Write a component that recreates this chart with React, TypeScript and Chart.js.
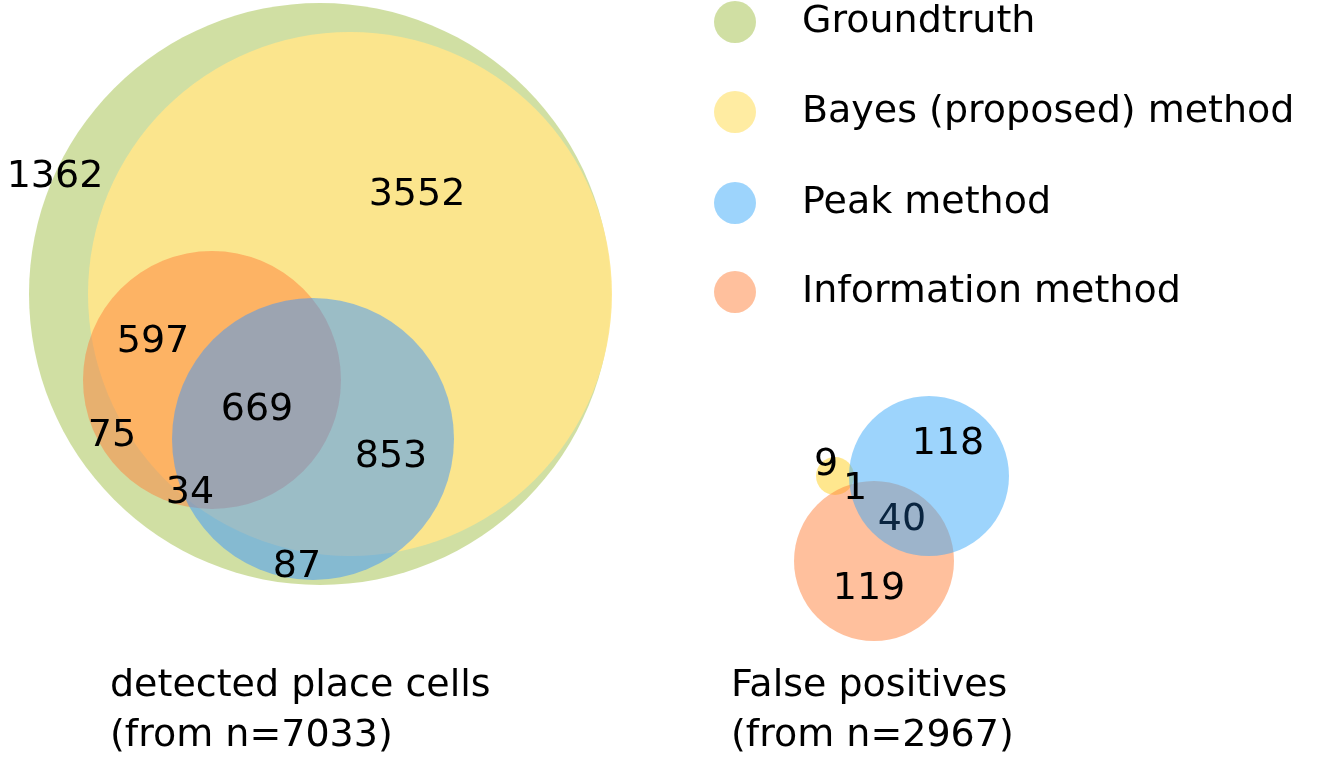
import { useRef, useEffect } from "react"
import { Chart, registerables } from "chart.js"

Chart.register(...registerables)

// circles: groundtruth, bayes, information, peak (left), then false positives (right)
const circleNames = ["Groundtruth", "Bayes", "Information", "Peak", "FP Bayes", "FP Information", "FP Peak"]
const circleX = [320, 350, 212, 313, 835, 874, 929]
const circleY = [294, 294, 380, 439, 476, 561, 476]
const circleR = [291, 262, 129, 141, 19, 80, 80]
const circleColors = [
  "rgba(162,192,72,0.5)",
  "rgba(255,230,140,0.92)",
  "rgba(255,130,60,0.5)",
  "rgba(60,150,255,0.5)",
  "rgba(255,228,130,0.9)",
  "rgba(255,130,60,0.5)",
  "rgba(60,170,250,0.5)",
]

const regionCounts = ["1362", "3552", "597", "669", "853", "75", "34", "87", "9", "1", "118", "40", "119"]
const regionX = [55, 417, 153, 257, 391, 112, 190, 297, 826, 855, 948, 902, 869]
const regionY = [177, 195, 342, 410, 457, 436, 493, 567, 465, 489, 444, 520, 589]

const legendLabels = ["Groundtruth", "Bayes (proposed) method", "Peak method", "Information method"]
const legendColors = ["rgba(162,192,72,0.5)", "rgba(255,218,70,0.5)", "rgba(60,170,250,0.5)", "rgba(255,130,60,0.5)"]
const legendY = [22, 112, 203, 292]

const captions = [
  ["detected place cells", "(from n=7033)"],
  ["False positives", "(from n=2967)"],
]
const captionX = [110, 731]

const textPlugin = {
  id: "vennText",
  afterDatasetsDraw(chart: any) {
    const { ctx, scales } = chart
    const x = scales.x, y = scales.y
    ctx.save()
    ctx.fillStyle = "#000"
    ctx.font = "38px 'DejaVu Sans'"
    ctx.textAlign = "center"
    ctx.textBaseline = "middle"
    regionCounts.forEach((t, i) => {
      ctx.fillStyle = i === 11 ? "#0a2540" : "#000"
      ctx.fillText(t, x.getPixelForValue(regionX[i]), y.getPixelForValue(regionY[i]))
    })
    ctx.fillStyle = "#000"
    ctx.textAlign = "left"
    legendLabels.forEach((t, i) => {
      ctx.fillText(t, x.getPixelForValue(802), y.getPixelForValue(legendY[i]))
    })
    captions.forEach((lines, i) => {
      lines.forEach((t, j) => {
        ctx.fillText(t, x.getPixelForValue(captionX[i]), y.getPixelForValue(686 + j * 50))
      })
    })
    ctx.restore()
  },
}

export default function App() {
  const chartRef = useRef<HTMLCanvasElement>(null)
  const chartInstance = useRef<Chart | null>(null)

  useEffect(() => {
    if (!chartRef.current) return
    if (chartInstance.current) chartInstance.current.destroy()

    const radiusPx = (r: number) => (c: any) => {
      const sx = c.chart.scales.x
      return sx.getPixelForValue(r) - sx.getPixelForValue(0)
    }
    const ctx = chartRef.current.getContext("2d")
    if (ctx) {
      chartInstance.current = new Chart(ctx, {
        type: "scatter",
        data: {
          datasets: [
            {
              label: "legend",
              data: legendY.map((v) => ({ x: 735, y: v })),
              backgroundColor: legendColors,
              borderWidth: 0,
              pointRadius: radiusPx(21),
            },
            {
              label: "venn",
              data: circleNames.map((_, i) => ({ x: circleX[i], y: circleY[i] })),
              backgroundColor: circleColors,
              borderWidth: 0,
              pointRadius: (c: any) => radiusPx(circleR[c.dataIndex])(c),
              pointHoverRadius: (c: any) => radiusPx(circleR[c.dataIndex])(c),
            },
          ],
        },
        options: {
          responsive: true,
          maintainAspectRatio: false,
          animation: false,
          layout: { padding: 0 },
          plugins: { legend: { display: false }, tooltip: { enabled: false } },
          scales: {
            x: { type: "linear", min: 0, max: 1342, display: false },
            y: { type: "linear", min: 0, max: 763, reverse: true, display: false },
          },
        },
        plugins: [textPlugin],
      })
    }
    return () => {
      if (chartInstance.current) chartInstance.current.destroy()
    }
  }, [])

  return (
    <div style={{ position: "fixed", left: 0, top: 0, width: 1342, height: 763, background: "#fff" }}>
      <canvas ref={chartRef} />
    </div>
  )
}
